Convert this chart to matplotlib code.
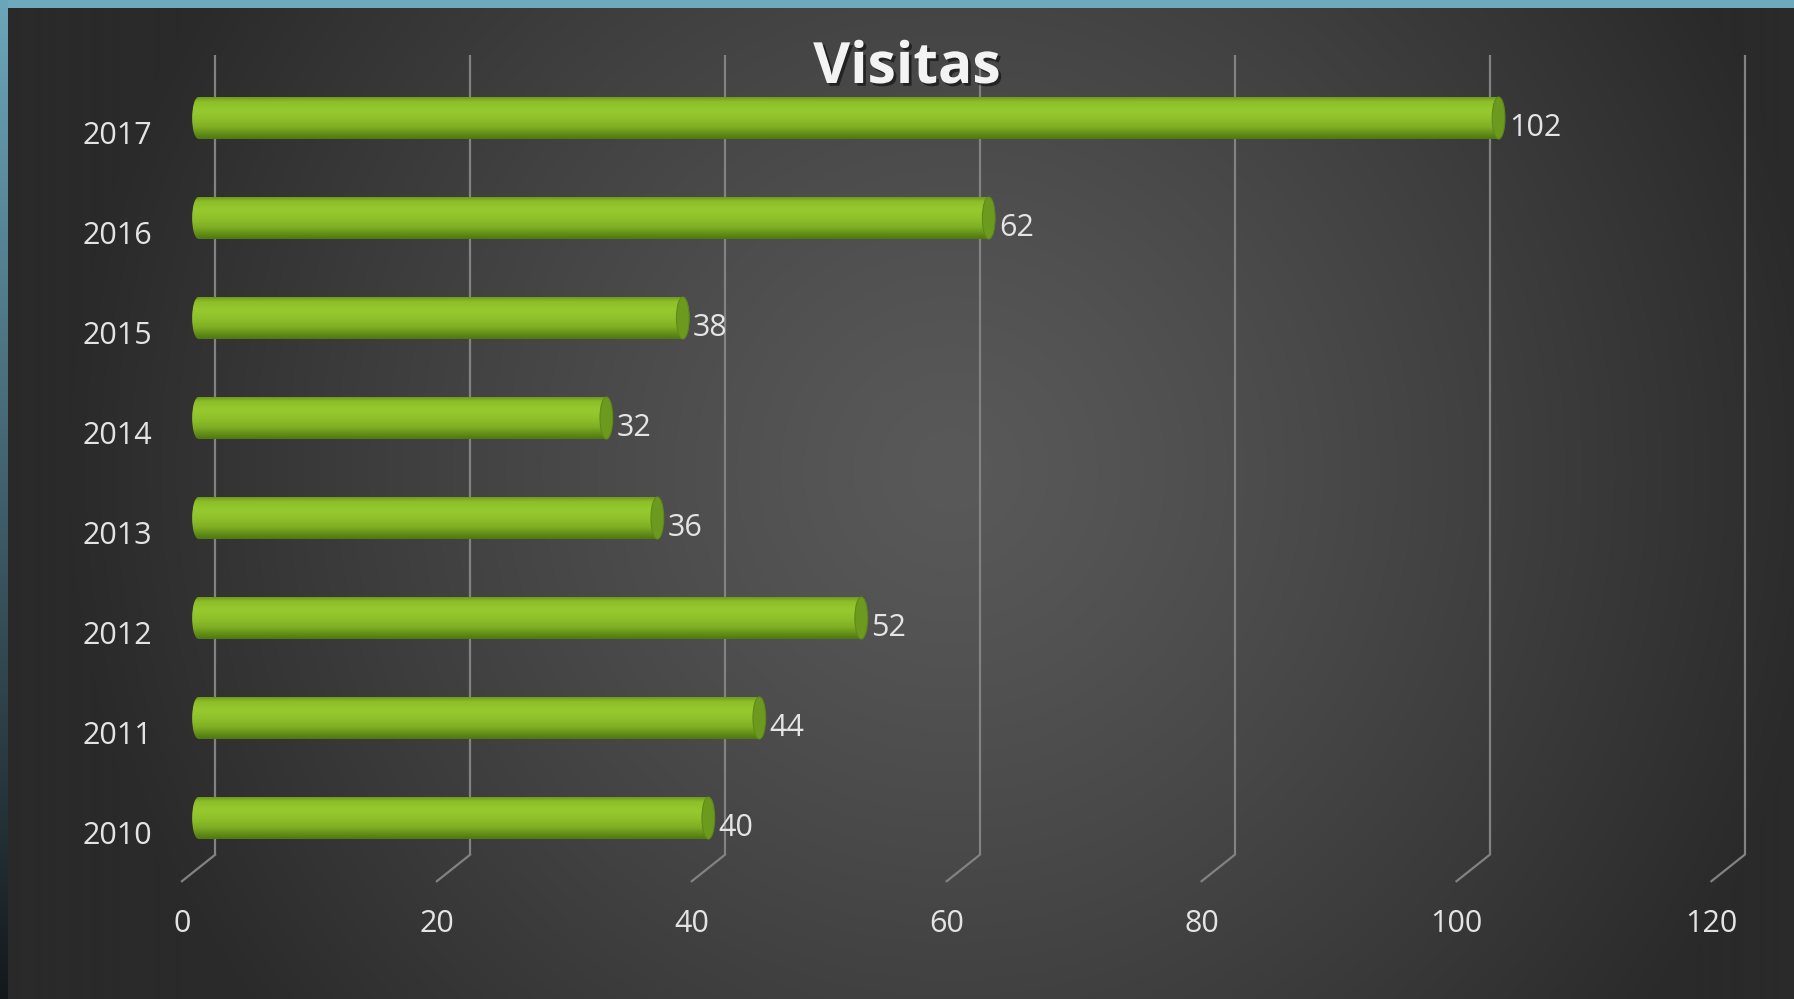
import numpy as np
import matplotlib
matplotlib.use("Agg")
import matplotlib.pyplot as plt
from matplotlib.patches import Ellipse
from matplotlib.colors import LinearSegmentedColormap
import matplotlib.patheffects as pe

years = ["2010", "2011", "2012", "2013", "2014", "2015", "2016", "2017"]
visits = [40, 44, 52, 36, 32, 38, 62, 102]
x_ticks = [0, 20, 40, 60, 80, 100, 120]
title = "Visitas"

W, H, DPI = 1794, 999, 100
TEXT = "#e4e4e4"
GRID = "#828282"
FONT = "Open Sans"

fig = plt.figure(figsize=(W / DPI, H / DPI), dpi=DPI)

# background: radial grey gradient with blue strip on top / left
bg = fig.add_axes([0, 0, 1, 1], zorder=0)
yy, xx = np.mgrid[0:H, 0:W]
r = np.sqrt(((xx - 950) / 880.0) ** 2 + ((yy - 470) / 900.0) ** 2)
r = np.clip(r, 0, 1) ** 1.25
g = (0x59 + (0x2a - 0x59) * r) / 255.0
img = np.dstack([g, g, g])
img[:8, :, :] = np.array([0x6f, 0xa9, 0xbd]) / 255.0
t = (yy[:, :8] / H)[..., None]
top_c = np.array([0x6c, 0xa6, 0xbb]) / 255.0
bot_c = np.array([0x14, 0x18, 0x1b]) / 255.0
img[:, :8, :] = top_c * (1 - t) + bot_c * t
bg.imshow(img, aspect="auto", extent=(0, 1, 0, 1))
bg.axis("off")

# chart area: x=0 on the bar plane at 198.5 px, 120 at 1728 px
ax = fig.add_axes([198.5 / W, 131 / H, (1728 - 198.5) / W, 800 / H], zorder=1)
ax.set_xlim(0, 120)
ax.set_ylim(-0.5, 7.5)
ax.patch.set_alpha(0)
ax.axis("off")

ox, oy = 1.3, 0.132   # half depth of the 3d floor, in data units
ylo, yhi = -0.5, 7.5
for v in x_ticks:
    ax.plot([v + ox, v + ox], [ylo + oy, yhi + oy], color=GRID, lw=1.6,
            clip_on=False, zorder=1, solid_capstyle="butt")
    ax.plot([v - ox, v + ox], [ylo - oy, ylo + oy], color=GRID, lw=1.6,
            clip_on=False, zorder=1)
    ax.text(v - ox, -1.065, str(v), ha="center", va="center", color=TEXT,
            fontsize=22, family=FONT)

# cylinder bars
cyl = LinearSegmentedColormap.from_list("cyl", [
    (0.0, "#4f7811"), (0.12, "#628f18"), (0.28, "#7fae24"), (0.48, "#8ec02a"),
    (0.7, "#97c92f"), (0.9, "#8cbe29"), (1.0, "#6f9c20")])
grad = np.linspace(0, 1, 64).reshape(-1, 1)
bh = 0.42
capw = 0.5
ypos = np.arange(len(years))
bars = ax.barh(ypos, visits, height=bh, left=0, color="none", zorder=3)
for i, (b, v) in enumerate(zip(bars, visits)):
    y0, y1 = i - bh / 2, i + bh / 2
    im = ax.imshow(grad, cmap=cyl, aspect="auto", extent=(0, v, y0, y1),
                   origin="lower", zorder=3, interpolation="bilinear")
    im.set_clip_path(b)
    left = Ellipse((0, i), 2 * capw, bh, facecolor="none", edgecolor="none",
                   clip_on=False)
    ax.add_patch(left)
    im2 = ax.imshow(grad, cmap=cyl, aspect="auto", extent=(-capw, capw, y0, y1),
                    origin="lower", zorder=3, interpolation="bilinear")
    im2.set_clip_box(fig.bbox)
    im2.set_clip_path(left)
    ax.add_patch(Ellipse((v, i), 2 * capw, bh, facecolor="#6c9a1f",
                         edgecolor="#5e8a18", lw=0.8, zorder=4))
    ax.text(v + 0.8, i - 0.095, str(v), ha="left", va="center", color=TEXT,
            fontsize=22, family=FONT, zorder=5)
    ax.text(-3.6, i - 0.185, years[i], ha="right", va="center", color=TEXT,
            fontsize=22, family=FONT, clip_on=False)

fig.text(907 / W, 1 - 68 / H, title, ha="center", va="center", color="#f3f3f3",
         fontsize=41, family=FONT, fontweight="bold",
         path_effects=[pe.withSimplePatchShadow(offset=(2, -2), shadow_rgbFace="black", alpha=0.5)])

fig.savefig("out.png", dpi=DPI)
